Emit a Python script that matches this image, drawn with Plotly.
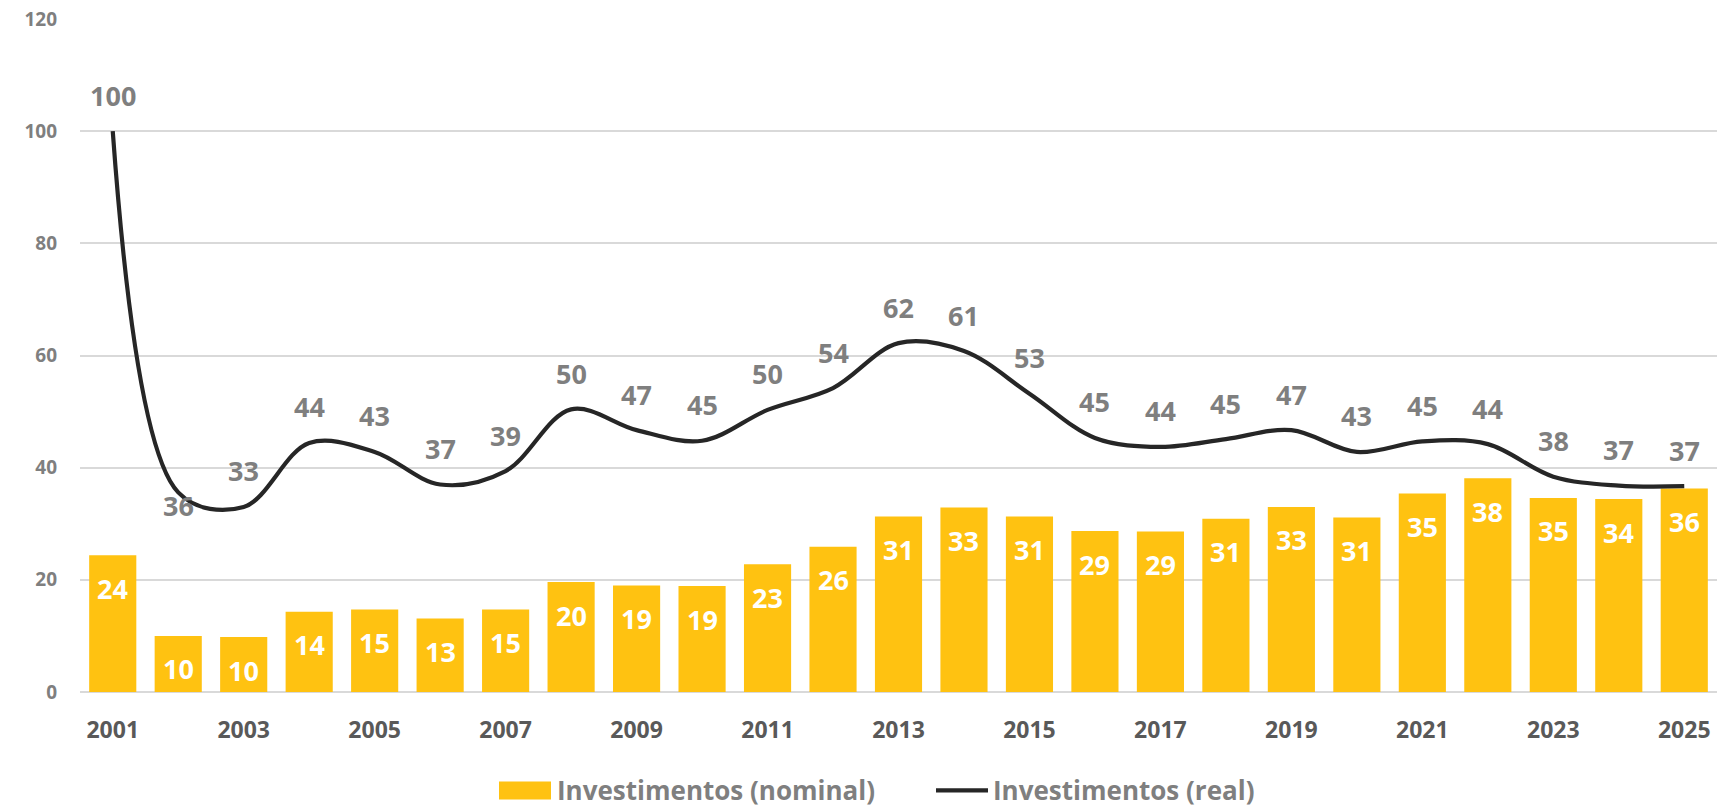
import plotly.graph_objects as go

years = list(range(2001, 2026))
nominal = [24.4, 10.0, 9.8, 14.3, 14.7, 13.1, 14.7, 19.6, 19.0, 18.9, 22.8, 25.9, 31.3,
           32.9, 31.3, 28.7, 28.6, 30.9, 33.0, 31.1, 35.4, 38.1, 34.6, 34.4, 36.3]
real = [100.0, 35.6, 33.0, 44.4, 42.8, 37.0, 39.4, 50.4, 46.7, 44.8, 50.3, 54.2, 62.2,
        60.8, 53.2, 45.3, 43.7, 45.1, 46.7, 42.8, 44.7, 44.2, 38.4, 36.8, 36.7]
x_ticks = list(range(2001, 2026, 2))
y_ticks = [0, 20, 40, 60, 80, 100, 120]
series_names = ["Investimentos (nominal)", "Investimentos (real)"]

FONT = "Open Sans"
BAR_COLOR = "#FFC211"
LINE_COLOR = "#262626"
GRAY = "#7F7F7F"
DARK = "#595959"
GRID = "#D9D9D9"

W, H = 1721, 810
L, R, T, B = 80, 4, 19, 117.5
pw, ph = W - L - R, H - T - B

def px_x(px):
    return (px - L) / pw

def px_y(py):
    return (H - B - py) / ph

fig = go.Figure()
fig.add_trace(go.Bar(x=years, y=nominal, name=series_names[0], marker_color=BAR_COLOR,
                     marker_line_width=0, showlegend=False, hoverinfo="x+y"))
fig.add_trace(go.Scatter(x=years, y=real, name=series_names[1], mode="lines",
                         line=dict(color=LINE_COLOR, width=4.2, shape="spline", smoothing=1),
                         showlegend=False))

ann = []
label_shift = {2002: (0, -13)}
for yr, v in zip(years, real):
    xs, ys = label_shift.get(yr, (0, 36))
    ann.append(dict(x=yr, y=v, text=f"{int(v + 0.5)}", showarrow=False, xshift=xs, yshift=ys,
                    font=dict(family=FONT, size=27, color=GRAY, weight="bold"),
                    xanchor="center", yanchor="middle"))
for yr, v in zip(years, nominal):
    ann.append(dict(x=yr, y=v, text=f"{int(v + 0.5)}", showarrow=False, yshift=-33,
                    font=dict(family=FONT, size=27, color="white", weight="bold"),
                    xanchor="center", yanchor="middle"))

# legend (custom, Excel-style swatches)
ann.append(dict(xref="paper", yref="paper", x=px_x(555), y=px_y(791), text=series_names[0],
                showarrow=False, xanchor="left", yanchor="middle",
                font=dict(family=FONT, size=26, color=GRAY, weight="bold")))
ann.append(dict(xref="paper", yref="paper", x=px_x(991), y=px_y(791), text=series_names[1],
                showarrow=False, xanchor="left", yanchor="middle",
                font=dict(family=FONT, size=26, color=GRAY, weight="bold")))
shapes = [
    dict(type="rect", xref="paper", yref="paper", x0=px_x(499), x1=px_x(551),
         y0=px_y(800), y1=px_y(782), fillcolor=BAR_COLOR, line_width=0),
    dict(type="line", xref="paper", yref="paper", x0=px_x(936), x1=px_x(988),
         y0=px_y(791), y1=px_y(791), line=dict(color=LINE_COLOR, width=4.2)),
]

fig.update_layout(
    width=W, height=H, autosize=False,
    margin=dict(l=L, r=R, t=T, b=B, pad=0),
    paper_bgcolor="white", plot_bgcolor="white",
    bargap=0.28,
    annotations=ann, shapes=shapes,
    showlegend=False,
    xaxis=dict(range=[2000.5, 2025.5], tickmode="array", tickvals=x_ticks,
               ticktext=[str(t) for t in x_ticks], showgrid=False, zeroline=False,
               showline=False, ticks="", ticklabelstandoff=22,
               tickfont=dict(family=FONT, size=23, color=DARK, weight="bold")),
    yaxis=dict(range=[0, 120], tickmode="array", tickvals=y_ticks, showgrid=True,
               gridcolor=GRID, gridwidth=1.6, zeroline=True, zerolinecolor=GRID,
               zerolinewidth=2, showline=False, ticks="", ticklabelstandoff=22,
               tickfont=dict(family=FONT, size=19, color=GRAY, weight="bold")),
)

fig.write_html("out.html", config={"displayModeBar": False},
               post_script="document.body.style.margin='0';")
